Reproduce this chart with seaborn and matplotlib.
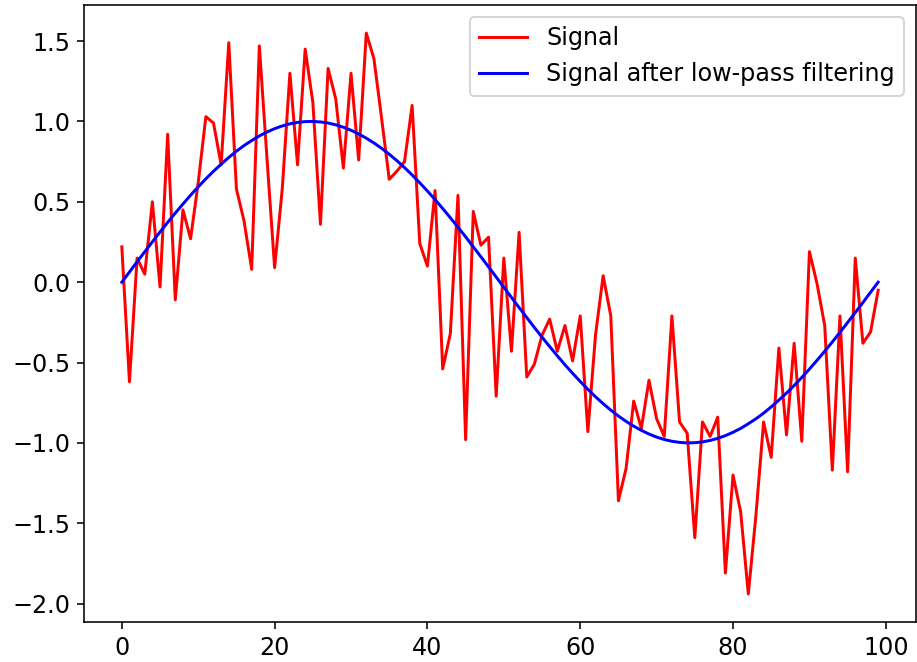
import matplotlib
matplotlib.use("Agg")
import matplotlib.pyplot as plt
import seaborn as sns
import numpy as np
import pandas as pd

# sample index
samples = list(range(100))

# noisy signal
signal = [0.22, -0.62, 0.15, 0.05, 0.50, -0.03, 0.92, -0.11, 0.45, 0.27,
          0.62, 1.03, 0.99, 0.73, 1.49, 0.58, 0.38, 0.08, 1.47, 0.77,
          0.09, 0.58, 1.30, 0.73, 1.45, 1.12, 0.36, 1.33, 1.14, 0.71,
          1.30, 0.76, 1.55, 1.39, 1.02, 0.64, 0.69, 0.75, 1.10, 0.24,
          0.10, 0.57, -0.54, -0.32, 0.54, -0.98, 0.44, 0.23, 0.28, -0.71,
          0.15, -0.43, 0.31, -0.59, -0.51, -0.33, -0.23, -0.43, -0.27, -0.49,
          -0.21, -0.93, -0.33, 0.04, -0.21, -1.36, -1.16, -0.74, -0.91, -0.61,
          -0.85, -0.96, -0.21, -0.87, -0.94, -1.59, -0.87, -0.96, -0.84, -1.81,
          -1.20, -1.43, -1.94, -1.45, -0.87, -1.09, -0.41, -0.95, -0.38, -0.99,
          0.19, -0.01, -0.27, -1.17, -0.21, -1.18, 0.15, -0.38, -0.31, -0.05]

# signal after low-pass filtering (smooth curve)
filtered = [0.000, 0.063, 0.127, 0.189, 0.251, 0.312, 0.372, 0.430, 0.486, 0.541,
            0.593, 0.643, 0.690, 0.734, 0.776, 0.815, 0.850, 0.881, 0.910, 0.934,
            0.955, 0.972, 0.985, 0.994, 0.999, 1.000, 0.997, 0.990, 0.979, 0.964,
            0.945, 0.922, 0.896, 0.866, 0.833, 0.796, 0.756, 0.713, 0.667, 0.618,
            0.567, 0.514, 0.458, 0.401, 0.342, 0.282, 0.220, 0.158, 0.095, 0.032,
            -0.032, -0.095, -0.158, -0.220, -0.282, -0.342, -0.401, -0.458, -0.514, -0.567,
            -0.618, -0.667, -0.713, -0.756, -0.796, -0.833, -0.866, -0.896, -0.922, -0.945,
            -0.964, -0.979, -0.990, -0.997, -1.000, -0.999, -0.994, -0.985, -0.972, -0.955,
            -0.934, -0.910, -0.881, -0.850, -0.815, -0.776, -0.734, -0.690, -0.643, -0.593,
            -0.541, -0.486, -0.430, -0.372, -0.312, -0.251, -0.189, -0.127, -0.063, 0.000]

labels = ['Signal', 'Signal after low-pass filtering']


def main():
    df = pd.DataFrame({'x': samples, 'signal': signal, 'filtered': filtered})

    plt.rcParams['font.size'] = 12

    fig = plt.figure(figsize=(918 / 143, 662 / 143), dpi=143)
    ax = fig.add_axes([84 / 918, 40 / 662, 832 / 918, 617 / 662])

    sns.lineplot(data=df, x='x', y='signal', color='red', label=labels[0], ax=ax)
    sns.lineplot(data=df, x='x', y='filtered', color='blue', label=labels[1], ax=ax)

    ax.set_xlabel('')
    ax.set_ylabel('')
    ax.legend(loc='upper right')

    fig.savefig('out.png', dpi=143)
    plt.close(fig)


if __name__ == "__main__":
    main()
